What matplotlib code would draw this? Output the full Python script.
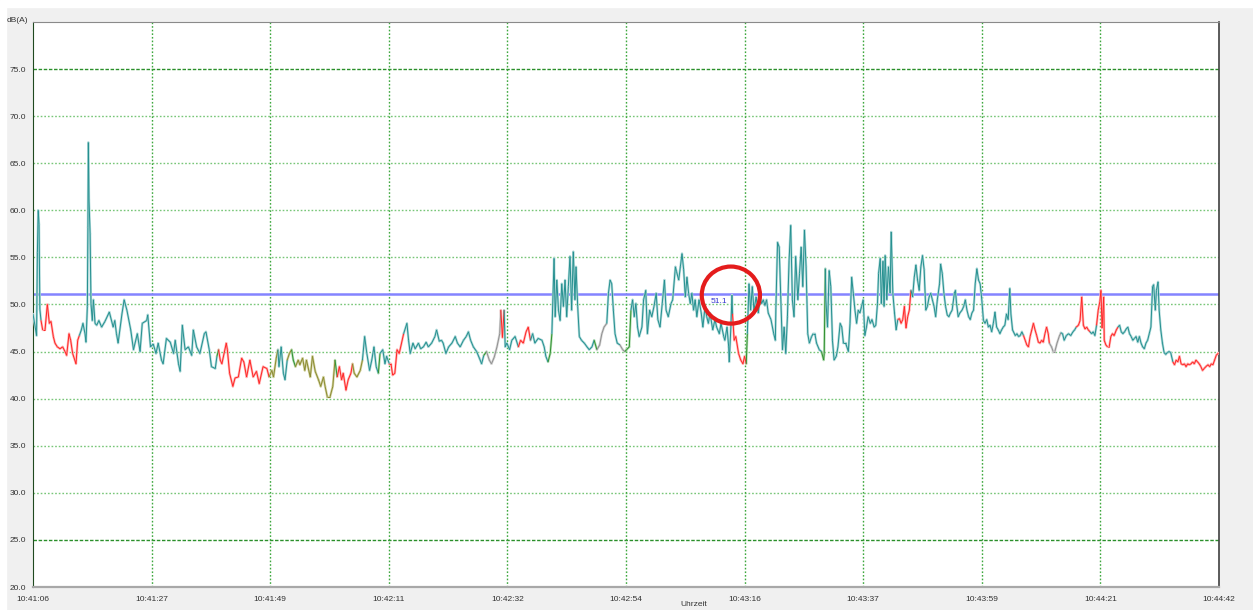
import numpy as np
import matplotlib
matplotlib.use("Agg")
import matplotlib.pyplot as plt
from matplotlib.collections import LineCollection
from matplotlib.patches import Ellipse, Rectangle

# ---------- data (seconds after 10:41:06, dB(A)) ----------

seconds = [
    # 10:41:06 - 10:41:49
    0.0, 0.4, 0.65, 0.8, 0.95, 1.1, 1.25, 1.46, 1.76, 2.19,
    2.61, 2.98, 3.28, 3.7, 4.0, 4.43, 4.92, 5.4, 5.83, 6.13,
    6.56, 6.86, 7.22, 7.83, 8.14, 8.44, 8.8, 9.1, 9.47, 9.65,
    9.9, 10.0, 10.08, 10.2, 10.4, 10.56, 10.8, 11.0, 11.3, 11.6,
    12.0, 12.5, 13.1, 13.9, 14.6, 14.9, 15.2, 15.5, 16.2, 16.6,
    17.1, 17.8, 18.3, 19.0, 19.5, 19.9, 20.7, 20.9, 21.4, 21.9,
    22.4, 22.8, 23.4, 23.7, 24.3, 25.0, 25.6, 25.9, 26.5, 26.8,
    27.2, 27.7, 28.3, 28.9, 29.2, 29.8, 30.4, 31.2, 31.5, 32.1,
    32.5, 33.2, 33.5, 33.8, 34.1, 34.4, 35.2, 35.4, 35.8, 36.4,
    36.8, 37.4, 38.0, 38.4, 38.9, 39.5, 40.1, 40.7, 41.2, 41.9,
    42.6, 43.0,
    # 10:41:49 - 10:42:13
    43.5, 43.8, 44.3, 44.6, 44.8, 45.2, 45.6, 45.9, 46.3, 46.7,
    47.1, 47.4, 47.8, 48.3, 48.6, 49.1, 49.5, 49.8, 50.5, 50.9,
    51.4, 52.0, 52.4, 52.9, 53.2, 53.6, 54.1, 54.6, 55.0, 55.4,
    55.8, 56.2, 56.5, 57.0, 57.4, 57.9, 58.2, 58.5, 59.0, 59.6,
    60.0, 60.4, 60.8, 61.3, 61.7, 62.1, 62.5, 62.9, 63.2, 63.7,
    64.1, 64.4, 64.9, 65.2, 65.5, 65.9, 66.3, 66.7,
    # 10:42:13 - 10:43:29
    67.5, 68.1, 68.4, 68.7, 69.2, 69.6, 70.2, 70.6, 71.1, 71.6,
    72.0, 72.6, 73.2, 73.5, 74.0, 74.4, 74.7, 75.2, 75.7, 76.3,
    76.9, 77.3, 77.8, 78.4, 78.9, 79.3, 79.7, 80.2, 80.8, 81.3,
    81.7, 82.1, 82.6, 83.1, 83.5, 84.0, 84.5, 85.0, 85.2, 85.5,
    85.8, 86.0, 86.3, 86.8, 87.2, 87.8, 88.4, 88.8, 89.3, 89.8,
    90.2, 90.6, 91.0, 91.4, 92.0, 92.7, 93.1, 93.4, 93.8, 94.2,
    94.5, 94.9, 95.1, 95.4, 95.7, 96.0, 96.3, 96.6, 96.9, 97.2,
    97.5, 97.8, 98.1, 98.4, 98.7, 98.9, 99.2, 99.5, 99.9, 100.4,
    100.9, 101.3, 101.8, 102.2, 102.7, 103.2, 103.6, 104.0, 104.5, 104.8,
    105.1, 105.4, 105.7, 106.0, 106.4, 106.9, 107.4, 107.8, 108.1, 108.6,
    108.9, 109.2, 109.5, 109.8, 110.1, 110.4, 110.9, 111.2, 111.6, 111.9,
    112.3, 112.7, 113.1, 113.5, 113.8, 114.2, 114.6, 115.0, 115.3, 115.7,
    116.2, 116.5, 117.0, 117.2, 117.6, 117.9, 118.2, 118.5, 118.8, 119.1,
    119.4, 119.7, 120.0, 120.3, 120.6, 120.9, 121.3, 121.7, 122.0, 122.4,
    122.7, 123.0, 123.3, 123.8, 124.2, 124.5, 125.0, 125.3, 125.8, 126.0,
    126.4, 126.7, 126.8, 127.1, 127.3, 127.4, 127.7, 128.0, 128.5, 128.9,
    129.3, 129.6, 129.9, 130.1, 130.4, 130.7, 131.0, 131.3, 131.7, 132.1,
    132.4, 132.7, 133.0, 133.3, 133.6, 133.9, 134.4, 134.9, 135.2, 135.3,
    135.6, 135.9, 136.2, 136.5, 136.8, 137.1, 137.4, 137.7, 138.0, 138.3,
    138.6, 138.9, 139.3, 139.6, 139.9, 140.2, 140.5, 140.8, 141.1, 141.4,
    141.8, 142.1, 142.4, 142.7, 143.2,
    # 10:43:29 - 10:44:00
    143.6, 144.0, 144.1, 144.3, 144.4, 144.7, 145.0, 145.3, 145.6, 145.9,
    146.3, 146.6, 147.0, 147.3, 147.6, 148.0, 148.5, 148.8, 149.1, 149.4,
    149.7, 150.0, 150.3, 150.6, 150.9, 151.2, 151.5, 151.8, 152.1, 152.5,
    152.8, 153.2, 153.5, 153.8, 154.0, 154.3, 154.5, 154.8, 155.0, 155.2,
    155.5, 155.8, 156.1, 156.3, 156.6, 156.9, 157.2, 157.5, 157.8, 158.1,
    158.4, 158.7, 159.0, 159.3, 159.6, 159.9, 160.2, 160.5, 160.8, 161.1,
    161.4, 161.7, 162.0, 162.3, 162.6, 162.9, 163.2, 163.5, 163.8, 164.1,
    164.4, 164.7, 165.1, 165.3, 165.6, 165.9, 166.2, 166.5, 166.8, 167.1,
    167.4, 167.8, 168.0, 168.2, 168.5, 168.8, 169.2, 169.5, 169.8, 170.1,
    170.4, 170.7, 171.0, 171.3, 171.6, 171.9, 172.2, 172.5, 172.8, 173.1,
    173.4, 173.7, 174.0,
    # 10:44:00 - 10:44:42
    174.3, 174.6, 174.9, 175.2, 175.5, 175.8, 176.1, 176.4, 176.7, 177.0,
    177.3, 177.6, 177.9, 178.1, 178.4, 178.9, 179.2, 179.5, 179.8, 180.1,
    180.4, 180.7, 181.0, 181.3, 181.6, 181.9, 182.2, 182.5, 182.8, 183.1,
    183.4, 183.7, 184.0, 184.3, 184.6, 184.9, 185.1, 185.5, 185.8, 186.1,
    186.5, 186.9, 187.2, 187.5, 187.8, 188.2, 188.6, 189.0, 189.4, 189.7,
    190.0, 190.4, 190.7, 191.0, 191.3, 191.6, 191.9, 192.2, 192.5, 192.8,
    193.1, 193.4, 193.7, 194.0, 194.3, 194.5, 194.7, 195.0, 195.1, 195.4,
    195.7, 196.0, 196.3, 196.6, 196.9, 197.3, 197.6, 197.9, 198.2, 198.5,
    198.8, 199.1, 199.4, 199.7, 200.0, 200.3, 200.6, 200.9, 201.2, 201.5,
    201.8, 202.1, 202.4, 202.7, 203.0, 203.3, 203.6, 203.9, 204.1, 204.4,
    204.6, 204.9, 205.1, 205.4, 205.7, 206.0, 206.3, 206.6, 206.9, 207.2,
    207.6, 207.9, 208.2, 208.5, 208.8, 209.1, 209.4, 209.7, 210.0, 210.3,
    210.6, 210.9, 211.2, 211.5, 211.8, 212.1, 212.4, 212.7, 213.0, 213.3,
    213.6, 214.0, 214.3, 214.6, 214.9, 215.2, 215.5, 215.8, 216.0,
]

levels = [
    # 10:41:06 - 10:41:49
    49.0, 47.6, 46.7, 55.5, 60.0, 58.5, 49.5, 48.3, 47.3, 47.3,
    50.0, 48.0, 48.2, 46.6, 45.9, 45.5, 45.3, 45.5, 45.0, 44.6,
    46.9, 46.2, 44.8, 43.7, 46.2, 46.7, 47.3, 48.0, 46.9, 46.0,
    49.8, 58.2, 67.2, 61.1, 57.5, 50.1, 48.3, 50.5, 48.0, 47.8,
    48.3, 47.6, 48.2, 49.2, 47.6, 48.3, 46.9, 45.9, 49.0, 50.5,
    49.4, 47.3, 45.2, 46.9, 45.0, 48.0, 48.3, 48.9, 45.5, 45.8,
    44.8, 45.9, 44.1, 43.7, 46.4, 46.0, 44.8, 46.2, 43.7, 42.9,
    47.8, 45.2, 45.5, 44.6, 47.3, 45.5, 44.8, 46.9, 47.1, 45.2,
    43.4, 43.2, 44.5, 45.2, 44.1, 43.7, 45.9, 45.2, 42.7, 41.3,
    42.2, 42.3, 44.3, 43.9, 42.3, 44.1, 42.3, 42.9, 41.6, 43.4,
    43.2, 42.3,
    # 10:41:49 - 10:42:13
    43.0, 42.3, 44.3, 45.2, 43.4, 45.5, 42.7, 42.0, 44.1, 44.8,
    45.2, 44.1, 43.4, 44.1, 43.6, 44.3, 43.0, 44.1, 42.3, 44.5,
    42.9, 42.0, 41.3, 42.3, 41.3, 40.2, 40.2, 41.3, 44.1, 42.3,
    43.4, 42.0, 42.7, 40.9, 42.0, 42.7, 43.7, 42.7, 42.3, 43.0,
    44.1, 46.6, 44.8, 43.0, 44.1, 45.5, 43.4, 42.7, 44.8, 45.2,
    43.7, 44.5, 43.7, 43.7, 42.5, 42.7, 45.2, 44.8,
    # 10:42:13 - 10:43:29
    46.9, 48.0, 46.2, 44.8, 45.9, 45.3, 45.9, 45.3, 45.5, 46.0,
    45.5, 45.9, 46.6, 47.3, 46.1, 46.2, 45.9, 44.8, 45.5, 45.9,
    46.6, 45.9, 45.5, 46.2, 46.6, 47.1, 46.2, 45.5, 45.0, 44.3,
    43.7, 44.6, 45.0, 44.1, 43.7, 44.4, 45.5, 46.9, 49.4, 46.5,
    49.4, 45.5, 45.9, 45.2, 46.2, 46.6, 45.5, 46.2, 45.9, 47.1,
    47.6, 46.2, 46.9, 45.9, 46.4, 46.2, 45.5, 44.5, 43.9, 44.8,
    46.9, 54.9, 48.7, 52.6, 49.4, 48.3, 52.2, 49.8, 52.6, 48.7,
    51.9, 55.1, 49.4, 55.6, 50.5, 54.0, 49.8, 46.6, 46.2, 45.9,
    45.5, 45.2, 45.5, 46.2, 45.2, 45.7, 46.9, 47.6, 48.0, 51.2,
    52.6, 52.2, 49.4, 46.9, 45.9, 45.7, 45.2, 45.0, 45.2, 45.5,
    49.4, 50.5, 48.7, 50.1, 47.6, 46.6, 47.6, 50.5, 51.5, 46.9,
    49.4, 48.7, 49.8, 51.2, 48.4, 47.6, 50.1, 52.6, 49.4, 48.7,
    50.1, 50.5, 54.0, 53.5, 52.6, 54.0, 55.4, 53.7, 50.8, 52.9,
    51.2, 50.1, 51.2, 49.4, 50.5, 48.7, 50.5, 49.1, 47.6, 49.8,
    48.7, 48.0, 49.1, 47.3, 48.4, 47.6, 46.9, 48.0, 46.6, 46.2,
    47.6, 45.5, 43.9, 47.6, 51.0, 49.0, 46.2, 46.6, 44.8, 44.1,
    43.7, 44.5, 43.7, 46.9, 52.2, 49.4, 51.9, 49.4, 50.8, 49.1,
    50.8, 50.1, 50.5, 49.9, 50.5, 49.1, 48.4, 46.9, 46.2, 49.7,
    56.6, 56.1, 50.5, 45.2, 47.6, 44.8, 48.7, 54.7, 58.4, 50.5,
    48.7, 55.1, 50.5, 53.3, 56.1, 51.9, 57.9, 54.0, 46.9, 45.9,
    46.6, 46.9, 46.9, 45.9, 45.2,
    # 10:43:29 - 10:44:00
    45.0, 44.1, 44.8, 53.8, 50.5, 47.6, 53.6, 51.9, 46.2, 44.1,
    44.5, 45.5, 48.0, 47.6, 45.9, 45.9, 45.0, 48.0, 52.9, 51.2,
    49.4, 48.0, 49.4, 49.1, 49.8, 50.5, 46.7, 47.6, 48.7, 48.0,
    48.4, 47.6, 47.8, 50.1, 53.3, 54.9, 50.1, 54.6, 49.8, 55.2,
    50.5, 54.0, 51.2, 57.7, 51.2, 49.1, 47.3, 48.4, 48.5, 48.0,
    48.4, 49.8, 47.5, 48.7, 49.4, 51.5, 50.8, 52.9, 54.2, 52.6,
    51.5, 54.0, 55.2, 53.7, 49.4, 49.8, 50.8, 51.2, 50.5, 49.8,
    48.7, 50.5, 52.2, 54.3, 53.3, 51.2, 49.8, 48.9, 48.7, 49.1,
    49.4, 51.2, 51.5, 50.1, 48.7, 49.1, 49.4, 49.8, 50.5, 49.4,
    48.7, 48.4, 49.1, 49.4, 52.2, 53.8, 52.6, 52.2, 50.5, 48.3,
    48.0, 48.4, 47.6,
    # 10:44:00 - 10:44:42
    47.8, 47.1, 48.0, 49.2, 47.6, 47.3, 46.9, 47.3, 47.6, 47.8,
    49.0, 48.4, 51.7, 49.0, 47.3, 46.7, 46.9, 46.6, 46.7, 47.1,
    46.7, 46.2, 45.7, 45.5, 46.6, 47.3, 48.0, 47.3, 46.7, 46.0,
    45.9, 46.2, 46.0, 46.9, 47.6, 46.9, 45.9, 45.5, 45.0, 45.0,
    45.9, 46.6, 47.0, 46.9, 46.2, 46.7, 46.9, 46.7, 47.1, 47.3,
    47.6, 47.8, 48.3, 50.8, 47.8, 47.4, 47.6, 47.3, 47.1, 46.9,
    47.1, 46.7, 47.8, 49.4, 50.3, 51.5, 47.5, 50.8, 46.2, 45.7,
    45.5, 45.5, 46.6, 46.9, 46.7, 47.3, 47.6, 47.8, 47.1, 46.9,
    47.1, 47.4, 47.6, 46.9, 46.6, 46.2, 46.4, 46.6, 46.0, 46.6,
    45.9, 45.5, 45.3, 45.9, 46.2, 46.9, 47.6, 51.9, 52.1, 49.4,
    51.5, 52.4, 49.4, 47.3, 45.9, 44.9, 44.7, 44.9, 45.0, 44.9,
    43.9, 43.6, 44.1, 43.9, 44.5, 43.7, 43.6, 43.7, 43.4, 43.7,
    43.6, 43.7, 43.9, 43.7, 44.1, 43.9, 43.7, 43.4, 43.0, 43.2,
    43.4, 43.6, 43.4, 43.7, 43.6, 44.1, 44.6, 44.8, 44.8,
]

# trace colour class, valid from each start time on
run_start = [0, 1.3, 8.4, 33.4, 33.7, 43.0, 44.5, 46.0, 46.8, 47.6,
             55.0, 55.4, 58.1, 60.0, 62.6, 63.2, 64.9, 67.0, 81.8, 82.6,
             85.1, 85.7, 88.4, 90.4, 93.6, 94.3, 102.1, 102.6, 104.4, 106.6,
             107.6, 108.7, 127.4, 129.8, 130.0, 143.5, 144.2, 157.5, 159.9, 180.4,
             185.1, 187.1, 190.0, 192.5, 193.7, 197.4, 207.3]
run_class = ["teal", "red", "teal", "green", "red", "olive", "teal", "olive", "green", "olive",
             "green", "red", "olive", "teal", "green", "teal", "red", "teal", "green", "gray",
             "red", "teal", "red", "teal", "green", "teal", "green", "gray", "teal", "gray",
             "green", "teal", "red", "green", "teal", "green", "teal", "red", "teal", "red",
             "gray", "teal", "red", "teal", "red", "teal", "red"]

tick_labels = ["10:41:06", "10:41:27", "10:41:49", "10:42:11", "10:42:32", "10:42:54",
               "10:43:16", "10:43:37", "10:43:59", "10:44:21", "10:44:42"]
y_ticks = [20, 25, 30, 35, 40, 45, 50, 55, 60, 65, 70, 75]
limit_db = 51.1
marked_t, marked_db = 127.1, 51.0   # circled spot

# ---------- styles ----------

core = {"teal": "#248f8f", "red": "#ff2424", "olive": "#8a8a30",
        "green": "#309030", "gray": "#909090"}
halo = {"teal": "#b0dada", "red": "#ffb4b4", "olive": "#d4d4a4",
        "green": "#b2dcb2", "gray": "#d6d6d6"}

t = np.array(seconds)
y = np.array(levels)
assert len(t) == len(y), (len(t), len(y))

pts = np.column_stack([t, y])
segs = np.stack([pts[:-1], pts[1:]], axis=1)
idx = np.searchsorted(run_start, t[:-1], side="right") - 1
names = [run_class[i] for i in idx]

fig = plt.figure(figsize=(12.53, 6.10), dpi=100, facecolor="#f0f0f0")
# white frame strips at top and left like the screenshot
fig.patches.append(Rectangle((0, 603 / 610), 1, 7 / 610, transform=fig.transFigure,
                             color="white", zorder=-5))
fig.patches.append(Rectangle((0, 0), 6 / 1253, 1, transform=fig.transFigure,
                             color="white", zorder=-5))

ax = fig.add_axes([33 / 1253, 23 / 610, 1186 / 1253, 565 / 610])
ax.set_facecolor("white")

x_ticks = [i * 21.6 for i in range(len(tick_labels))]

# grid
for v in y_ticks[1:]:
    if v in (25, 75):
        ax.axhline(v, color="#2a8f2a", lw=1, ls=(0, (2.5, 1.2)), zorder=1)
    else:
        ax.axhline(v, color="#78c678", lw=1, ls=(0, (1.2, 1.4)), zorder=1)
for v in x_ticks[1:-1]:
    ax.axvline(v, color="#3ea83e", lw=1, ls=(0, (1.2, 1.4)), zorder=1)

ax.axhline(limit_db, color="#8484ff", lw=1.8, zorder=2)

ax.add_collection(LineCollection(segs, colors=[halo[n] for n in names], linewidths=1.7,
                                 capstyle="round", zorder=3))
ax.add_collection(LineCollection(segs, colors=[core[n] for n in names], linewidths=0.7,
                                 zorder=4))

ax.text(123.5, 50.3, "51.1", color="#3535d0", fontsize=6, family="Liberation Sans",
        ha="left", va="center", zorder=5)
ax.add_patch(Ellipse((marked_t, marked_db), width=10.6, height=6.06, fill=False,
                     edgecolor="#e41c1c", lw=3, zorder=6))

ax.set_xlim(0, 216)
ax.set_ylim(20, 80)
ax.set_xticks(x_ticks)
ax.set_xticklabels(tick_labels)
ax.set_yticks(y_ticks)
ax.set_yticklabels([f"{v:.1f}" for v in y_ticks])
ax.tick_params(axis="both", length=0, labelsize=6, colors="#333333")
ax.tick_params(axis="x", pad=6.5)
ax.tick_params(axis="y", pad=5)
for lab in ax.get_xticklabels() + ax.get_yticklabels():
    lab.set_family("Liberation Sans")

ax.spines["top"].set_color("#8a8a8a")
ax.spines["bottom"].set_color("#a8a8a8")
ax.spines["bottom"].set_linewidth(1.6)
ax.spines["left"].set_color("#204a20")
ax.spines["right"].set_color("#404040")
ax.spines["right"].set_linewidth(1.2)

fig.text(7 / 1253, 1 - 20 / 610, "dB(A)", fontsize=6, family="Liberation Sans",
         color="#333333", ha="left", va="center")
fig.text(694 / 1253, 1 - 605 / 610, "Uhrzeit", fontsize=6, family="Liberation Sans",
         color="#333333", ha="center", va="center")

fig.savefig("out.png", dpi=100, facecolor=fig.get_facecolor())
print("saved out.png")
